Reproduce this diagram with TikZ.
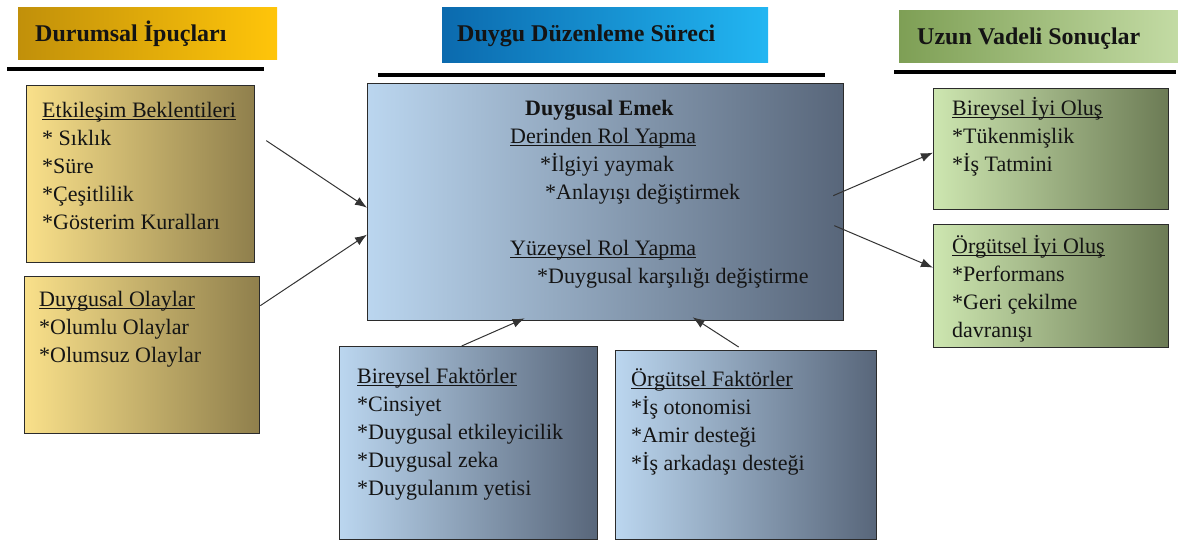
\documentclass[tikz,border=0pt]{standalone}
\usepackage{fontspec}
\setmainfont{Liberation Serif}
\usetikzlibrary{arrows.meta}

\definecolor{goldL}{HTML}{F9E08A}
\definecolor{goldR}{HTML}{8F7F4C}
\definecolor{blueL}{HTML}{BBD6EF}
\definecolor{blueR}{HTML}{58667A}
\definecolor{greenL}{HTML}{CDE6B0}
\definecolor{greenR}{HTML}{6C7B55}
\definecolor{hdrgoldL}{HTML}{C1900A}
\definecolor{hdrgoldR}{HTML}{FFC50A}
\definecolor{hdrblueL}{HTML}{0B6AAE}
\definecolor{hdrblueR}{HTML}{22B6F2}
\definecolor{hdrgreenL}{HTML}{7E9F55}
\definecolor{hdrgreenR}{HTML}{C3DBA4}
\definecolor{ink}{HTML}{141414}
\definecolor{edge}{HTML}{2B2B2B}

% underline at a fixed depth
\newcommand{\undl}[1]{\setbox0\hbox{#1}\rlap{\rule[-2.5pt]{\wd0}{1pt}}\box0}

\tikzset{
  box/.style={draw=edge, line width=1.3pt, inner sep=0pt, anchor=north west},
  hdr/.style={inner sep=0pt, anchor=north west},
  hdrtext/.style={anchor=base west, inner sep=0pt, text=ink, font=\fontsize{24}{28}\selectfont\bfseries},
  txt/.style={anchor=base west, inner sep=0pt, text=ink, align=left, font=\fontsize{22}{28}\selectfont},
  rule/.style={line width=4pt, black},
  arr/.style={draw=black!80, line width=1pt, -{Latex[length=12pt,width=9pt]}},
}

\begin{document}
\begin{tikzpicture}[x=1pt,y=-1pt]
\useasboundingbox (0,0) rectangle (1178,541);

% column headers
\node[hdr, left color=hdrgoldL, right color=hdrgoldR, minimum width=259pt, minimum height=52pt] (cuehdr) at (18,7) {};
\node[hdrtext] (cuetitle) at (35,41) {Durumsal İpuçları};
\draw[rule] (7,69) -- (264,69);

\node[hdr, left color=hdrblueL, right color=hdrblueR, minimum width=326pt, minimum height=55pt] (prochdr) at (442,7) {};
\node[hdrtext] (proctitle) at (457,41) {Duygu Düzenleme Süreci};
\draw[rule] (378,75) -- (825,75);

\node[hdr, left color=hdrgreenL, right color=hdrgreenR, minimum width=279pt, minimum height=52pt] (outhdr) at (899,10) {};
\node[hdrtext] (outtitle) at (917,44) {Uzun Vadeli Sonuçlar};
\draw[rule] (894,72) -- (1176,72);

% boxes
\node[box, left color=goldL, right color=goldR, minimum width=228pt, minimum height=177pt] (etk) at (26,85) {};
\node[box, left color=goldL, right color=goldR, minimum width=235pt, minimum height=157pt] (olay) at (24,276) {};
\node[box, left color=blueL, right color=blueR, minimum width=476pt, minimum height=237pt] (emek) at (367,83) {};
\node[box, left color=blueL, right color=blueR, minimum width=258pt, minimum height=193pt] (bfak) at (339,346) {};
\node[box, left color=blueL, right color=blueR, minimum width=261pt, minimum height=189pt] (ofak) at (615,350) {};
\node[box, left color=greenL, right color=greenR, minimum width=235pt, minimum height=121pt] (bir) at (933,88) {};
\node[box, left color=greenL, right color=greenR, minimum width=235pt, minimum height=123pt] (org) at (933,224) {};

% box texts (placed at the baseline of the last line)
\node[txt] (etktext) at (42,229) {\undl{Etkileşim Beklentileri}\\* Sıklık\\*Süre\\*Çeşitlilik\\*Gösterim Kuralları};
\node[txt] (olaytext) at (39,362) {\undl{Duygusal Olaylar}\\*Olumlu Olaylar\\*Olumsuz Olaylar};
\node[txt] (emektext) at (510,283) {\hspace*{15pt}\textbf{Duygusal Emek}\\\undl{Derinden Rol Yapma}\\\hspace*{30pt}*İlgiyi yaymak\\\hspace*{35pt}*Anlayışı değiştirmek\\[28pt]\undl{Yüzeysel Rol Yapma}\\\hspace*{27pt}*Duygusal karşılığı değiştirme};
\node[txt] (bfaktext) at (357,495) {\undl{Bireysel Faktörler}\\*Cinsiyet\\*Duygusal etkileyicilik\\*Duygusal zeka\\*Duygulanım yetisi};
\node[txt] (ofaktext) at (631,470) {\undl{Örgütsel Faktörler}\\*İş otonomisi\\*Amir desteği\\*İş arkadaşı desteği};
\node[txt] (birtext) at (952,171) {\undl{Bireysel İyi Oluş}\\*Tükenmişlik\\*İş Tatmini};
\node[txt] (orgtext) at (952,337) {\undl{Örgütsel İyi Oluş}\\*Performans\\*Geri çekilme\\davranışı};

% arrows
\draw[arr] ([shift={(11pt,33.5pt)}]etk.east) -- ([yshift=-5.5pt]emek.west);
\draw[arr] ([yshift=49.5pt]olay.east) -- ([yshift=-32.5pt]emek.west);
\draw[arr] ([shift={(-11pt,6.5pt)}]emek.east) -- ([yshift=-3.5pt]bir.west);
\draw[arr] ([shift={(-10pt,-23.5pt)}]emek.east) -- ([yshift=18.5pt]org.west);
\draw[arr] ([xshift=-7pt]bfak.north) -- ([shift={(-81pt,3pt)}]emek.south);
\draw[arr] ([shift={(-7.5pt,3pt)}]ofak.north) -- ([shift={(87pt,4pt)}]emek.south);
\end{tikzpicture}
\end{document}
